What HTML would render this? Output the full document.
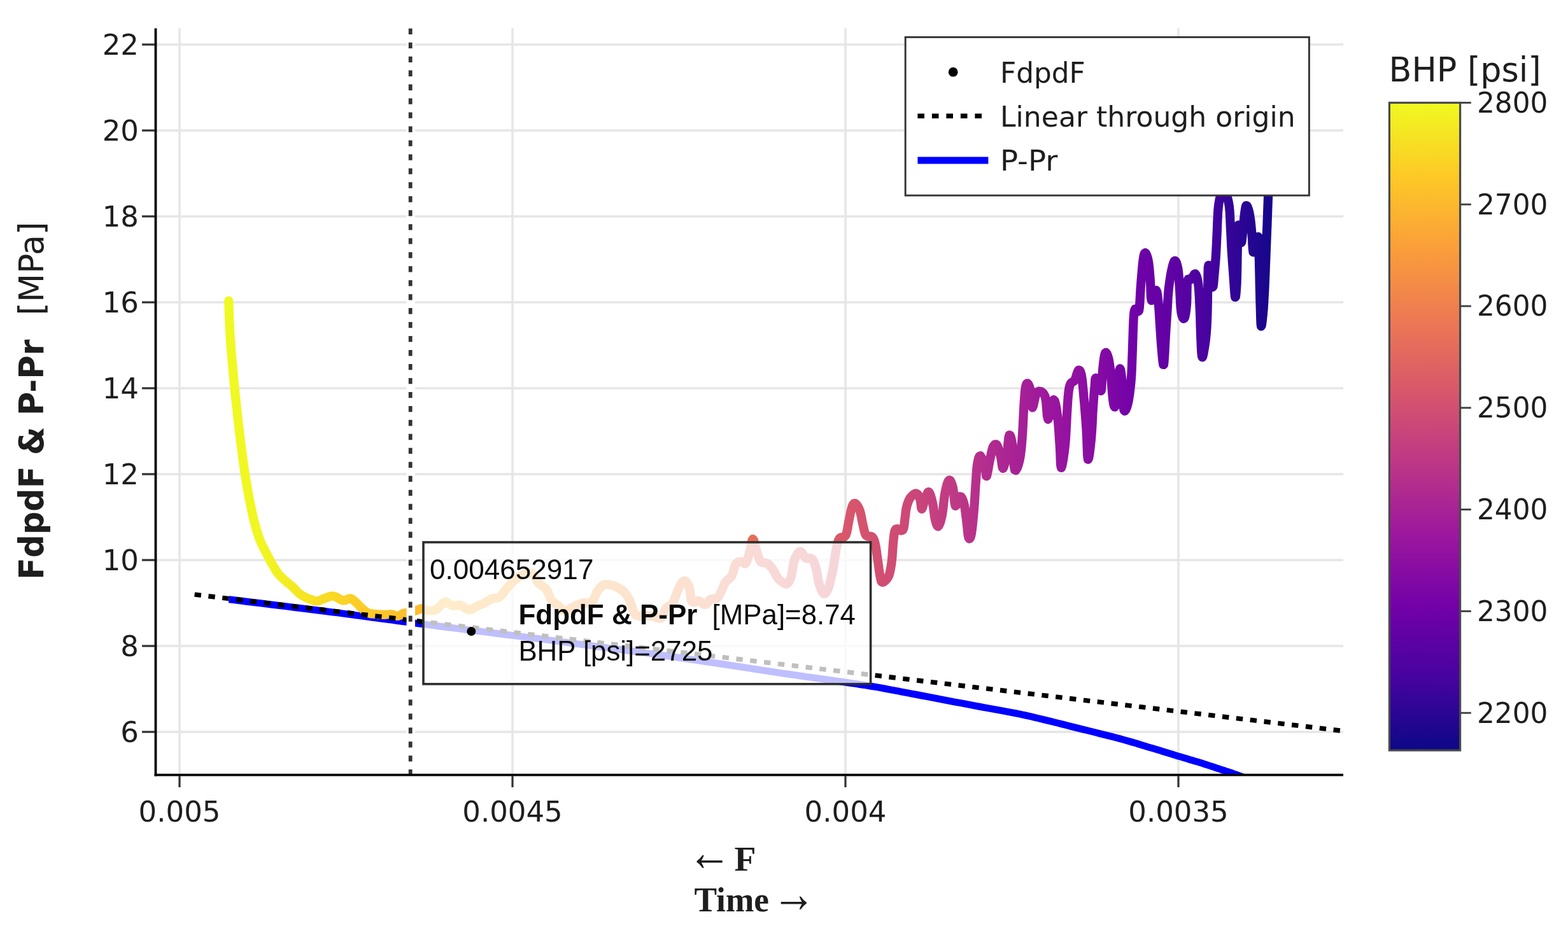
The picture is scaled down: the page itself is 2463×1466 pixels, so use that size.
<!DOCTYPE html>
<html lang="en"><head><meta charset="utf-8"><title>FdpdF &amp; P-Pr chart</title>
<style>html,body{margin:0;padding:0;background:#fff;overflow:hidden}svg{display:block;filter:blur(0.7px)}</style>
</head><body>
<svg width="2463" height="1466" viewBox="0 0 2463 1466">
<defs>
<linearGradient id="cb" x1="0" y1="1" x2="0" y2="0">
<stop offset="0.0000" stop-color="#0d0887"/>
<stop offset="0.1111" stop-color="#46039f"/>
<stop offset="0.2222" stop-color="#7201a8"/>
<stop offset="0.3333" stop-color="#9c179e"/>
<stop offset="0.4444" stop-color="#bd3786"/>
<stop offset="0.5556" stop-color="#d8576b"/>
<stop offset="0.6667" stop-color="#ed7953"/>
<stop offset="0.7778" stop-color="#fb9f3a"/>
<stop offset="0.8889" stop-color="#fdca26"/>
<stop offset="1.0000" stop-color="#f0f921"/>
</linearGradient>
<clipPath id="plot"><rect x="244.5" y="44.5" width="1865.5" height="1173.2"/></clipPath>
</defs>
<rect width="2463" height="1466" fill="#ffffff"/>
<g stroke="#e6e6e6" stroke-width="3.6" fill="none">
<line x1="282.0" y1="44.5" x2="282.0" y2="1217.7"/>
<line x1="805.0" y1="44.5" x2="805.0" y2="1217.7"/>
<line x1="1328.0" y1="44.5" x2="1328.0" y2="1217.7"/>
<line x1="1851.0" y1="44.5" x2="1851.0" y2="1217.7"/>
<line x1="244.5" y1="1150.0" x2="2110.0" y2="1150.0"/>
<line x1="244.5" y1="1015.0" x2="2110.0" y2="1015.0"/>
<line x1="244.5" y1="880.0" x2="2110.0" y2="880.0"/>
<line x1="244.5" y1="745.0" x2="2110.0" y2="745.0"/>
<line x1="244.5" y1="610.0" x2="2110.0" y2="610.0"/>
<line x1="244.5" y1="475.0" x2="2110.0" y2="475.0"/>
<line x1="244.5" y1="340.0" x2="2110.0" y2="340.0"/>
<line x1="244.5" y1="205.0" x2="2110.0" y2="205.0"/>
<line x1="244.5" y1="70.0" x2="2110.0" y2="70.0"/>
</g>
<defs><linearGradient id="fg" gradientUnits="userSpaceOnUse" x1="358" y1="0" x2="1995" y2="0">
<stop offset="0.0000" stop-color="#f0f921"/>
<stop offset="0.0318" stop-color="#f1f621"/>
<stop offset="0.0531" stop-color="#f3ee22"/>
<stop offset="0.0715" stop-color="#f5e623"/>
<stop offset="0.0990" stop-color="#f9d924"/>
<stop offset="0.1234" stop-color="#fccd26"/>
<stop offset="0.1723" stop-color="#fcbf2b"/>
<stop offset="0.2089" stop-color="#fcb331"/>
<stop offset="0.2700" stop-color="#fba836"/>
<stop offset="0.3311" stop-color="#fa9c3c"/>
<stop offset="0.3922" stop-color="#f69242"/>
<stop offset="0.4533" stop-color="#f1844c"/>
<stop offset="0.5034" stop-color="#e66e5b"/>
<stop offset="0.5510" stop-color="#df6264"/>
<stop offset="0.5999" stop-color="#d7556c"/>
<stop offset="0.6487" stop-color="#cd4a76"/>
<stop offset="0.6976" stop-color="#be3985"/>
<stop offset="0.7343" stop-color="#b02a90"/>
<stop offset="0.7892" stop-color="#9b169e"/>
<stop offset="0.8320" stop-color="#880ca3"/>
<stop offset="0.8687" stop-color="#7101a8"/>
<stop offset="0.9114" stop-color="#5d02a4"/>
<stop offset="0.9420" stop-color="#45039f"/>
<stop offset="0.9725" stop-color="#2c0594"/>
<stop offset="1.0000" stop-color="#17078b"/>
</linearGradient></defs>
<g clip-path="url(#plot)" fill="none" stroke-linejoin="round">
<path stroke="#0000ff" stroke-width="11" d="M359.5 941.7 L366.6 942.6 L376.0 943.8 L387.3 945.2 L399.8 946.7 L412.9 948.3 L426.0 950.0 L438.6 951.5 L450.0 952.9 L460.6 954.2 L471.0 955.5 L481.2 956.8 L491.3 958.0 L501.2 959.3 L510.9 960.5 L520.6 961.7 L530.0 962.9 L539.3 964.1 L548.3 965.3 L557.2 966.5 L565.9 967.6 L574.5 968.8 L583.0 970.0 L591.5 971.1 L600.0 972.2 L608.3 973.3 L616.4 974.4 L624.3 975.5 L632.1 976.5 L640.1 977.5 L648.3 978.6 L656.9 979.7 L666.0 980.9 L675.6 982.1 L685.5 983.4 L695.8 984.7 L706.3 986.0 L717.0 987.4 L727.9 988.8 L738.9 990.1 L750.0 991.5 L761.1 992.9 L772.3 994.3 L783.6 995.7 L795.1 997.2 L806.7 998.6 L818.6 1000.1 L830.6 1001.6 L843.0 1003.2 L855.8 1004.9 L869.0 1006.6 L882.6 1008.4 L896.3 1010.2 L910.1 1012.1 L923.7 1013.9 L937.1 1015.7 L950.0 1017.4 L962.7 1019.1 L975.3 1020.8 L987.8 1022.5 L1000.1 1024.1 L1012.1 1025.8 L1023.8 1027.4 L1035.1 1028.9 L1046.0 1030.4 L1056.4 1031.9 L1066.4 1033.3 L1075.9 1034.7 L1085.2 1036.1 L1094.2 1037.4 L1102.9 1038.7 L1111.5 1040.0 L1120.0 1041.3 L1128.2 1042.5 L1136.2 1043.7 L1143.8 1044.9 L1151.3 1046.0 L1158.7 1047.1 L1166.1 1048.3 L1173.5 1049.4 L1181.0 1050.6 L1188.6 1051.7 L1196.2 1052.9 L1203.9 1054.1 L1211.5 1055.2 L1219.1 1056.4 L1226.8 1057.6 L1234.4 1058.7 L1242.0 1059.8 L1249.6 1060.9 L1257.2 1062.0 L1264.7 1063.1 L1272.2 1064.1 L1279.8 1065.2 L1287.5 1066.3 L1295.2 1067.4 L1303.0 1068.5 L1311.0 1069.7 L1319.2 1070.8 L1327.4 1072.0 L1335.8 1073.2 L1344.0 1074.4 L1352.2 1075.7 L1360.2 1076.9 L1368.0 1078.2 L1375.5 1079.4 L1382.7 1080.7 L1389.8 1082.0 L1396.8 1083.3 L1403.7 1084.6 L1410.7 1085.9 L1417.7 1087.3 L1425.0 1088.7 L1432.4 1090.1 L1440.0 1091.5 L1447.6 1093.0 L1455.2 1094.4 L1462.9 1095.9 L1470.7 1097.4 L1478.3 1098.9 L1486.0 1100.3 L1493.7 1101.8 L1501.4 1103.3 L1509.2 1104.7 L1517.0 1106.2 L1524.7 1107.6 L1532.3 1109.1 L1539.8 1110.5 L1547.0 1111.8 L1554.1 1113.1 L1561.1 1114.4 L1568.0 1115.7 L1574.8 1116.9 L1581.4 1118.1 L1587.9 1119.4 L1594.1 1120.5 L1600.0 1121.7 L1605.6 1122.9 L1610.9 1124.0 L1615.9 1125.1 L1620.7 1126.2 L1625.4 1127.3 L1630.2 1128.5 L1635.0 1129.6 L1640.0 1130.8 L1645.2 1132.1 L1650.4 1133.3 L1655.7 1134.7 L1661.0 1136.0 L1666.3 1137.4 L1671.6 1138.7 L1676.8 1140.0 L1682.0 1141.3 L1687.1 1142.6 L1692.1 1143.8 L1697.1 1145.1 L1702.1 1146.3 L1707.0 1147.5 L1712.0 1148.8 L1717.0 1150.0 L1722.0 1151.3 L1727.1 1152.6 L1732.2 1153.8 L1737.3 1155.1 L1742.4 1156.4 L1747.6 1157.7 L1752.7 1159.0 L1757.9 1160.4 L1763.0 1161.8 L1768.1 1163.2 L1773.1 1164.6 L1778.2 1166.1 L1783.2 1167.6 L1788.3 1169.1 L1793.4 1170.7 L1798.6 1172.3 L1804.0 1173.9 L1809.6 1175.6 L1815.4 1177.3 L1821.4 1179.1 L1827.4 1181.0 L1833.3 1182.8 L1839.2 1184.6 L1844.7 1186.3 L1850.0 1187.9 L1854.9 1189.3 L1859.6 1190.7 L1864.2 1192.1 L1868.5 1193.4 L1872.7 1194.6 L1876.9 1195.9 L1880.9 1197.1 L1885.0 1198.3 L1889.0 1199.6 L1893.0 1200.9 L1896.8 1202.1 L1900.6 1203.4 L1904.3 1204.6 L1908.0 1205.8 L1911.5 1207.0 L1915.0 1208.1 L1918.3 1209.2 L1921.4 1210.2 L1924.3 1211.1 L1927.2 1212.1 L1930.1 1213.0 L1933.2 1214.0 L1936.4 1215.2 L1940.0 1216.4 L1944.1 1217.9 L1948.9 1219.6 L1953.9 1221.5 L1959.1 1223.4 L1964.0 1225.2 L1968.5 1226.9 L1972.2 1228.3 L1975.0 1229.3"/>
<path stroke="url(#fg)" stroke-width="14.2" stroke-linecap="round" d="M359.2 472.5 L359.4 477.1 L359.6 483.6 L359.8 491.0 L360.1 498.0 L360.4 504.4 L360.7 510.9 L361.0 517.4 L361.3 523.7 L361.7 529.9 L362.1 536.0 L362.5 542.0 L363.0 548.0 L363.4 553.6 L363.9 558.8 L364.4 564.5 L365.0 571.6 L365.8 580.4 L366.7 590.5 L367.7 601.2 L368.7 612.0 L369.8 623.0 L371.1 634.4 L372.3 645.7 L373.5 656.3 L374.6 666.0 L375.7 675.1 L376.8 684.0 L377.9 693.0 L379.1 702.3 L380.3 711.7 L381.5 721.0 L382.7 730.0 L383.9 738.6 L385.2 747.0 L386.5 755.1 L387.8 763.0 L389.1 770.6 L390.5 778.0 L391.9 785.3 L393.4 792.6 L394.9 800.0 L396.5 807.5 L398.2 814.9 L400.0 822.0 L401.9 828.8 L403.8 835.5 L405.8 841.8 L408.0 847.8 L410.3 853.3 L412.8 858.5 L415.3 863.3 L417.7 868.0 L419.9 872.4 L422.1 876.6 L424.2 880.6 L426.5 884.7 L429.0 889.0 L431.5 893.3 L434.1 897.5 L436.8 901.2 L439.5 904.4 L442.3 907.2 L445.1 909.7 L447.9 912.3 L450.8 914.9 L453.8 917.3 L456.8 919.7 L459.7 922.2 L462.4 924.8 L464.9 927.5 L467.4 930.2 L470.0 932.5 L472.7 934.5 L475.6 936.3 L478.4 937.8 L481.0 939.2 L483.4 940.3 L485.7 941.1 L487.8 941.8 L490.0 942.5 L492.1 943.3 L494.0 944.1 L496.0 944.7 L498.4 944.7 L501.2 943.9 L504.2 942.6 L507.4 941.1 L510.7 939.8 L514.0 938.7 L517.3 937.5 L520.7 936.7 L524.2 936.7 L527.9 937.9 L531.7 940.1 L535.5 942.3 L538.9 943.5 L542.0 943.2 L544.8 942.0 L547.5 940.8 L550.0 940.4 L552.3 941.1 L554.4 942.4 L556.4 944.1 L558.6 946.0 L561.0 948.2 L563.4 950.8 L565.9 953.4 L568.4 955.8 L570.8 957.9 L573.1 959.9 L575.6 961.7 L578.2 963.1 L581.1 964.0 L584.2 964.5 L587.4 964.7 L590.5 965.0 L593.6 965.3 L596.7 965.5 L599.7 965.7 L602.8 965.8 L605.9 965.7 L609.0 965.5 L612.1 965.3 L615.0 965.4 L617.7 966.0 L620.2 966.9 L622.6 967.8 L624.9 968.0 L627.2 967.3 L629.5 966.1 L631.6 964.8 L633.5 963.8 L634.9 963.4 L636.0 963.3 L637.1 963.3 L638.4 963.1 L640.1 962.7 L642.1 962.1 L644.1 961.5 L646.0 961.0 L647.8 960.6 L649.5 960.3 L651.2 960.0 L653.1 959.5 L655.2 958.7 L657.4 957.7 L659.6 956.8 L661.7 956.4 L663.6 956.6 L665.4 957.2 L667.2 957.9 L669.0 958.5 L670.8 958.9 L672.6 959.3 L674.5 959.5 L676.5 959.5 L678.7 959.3 L681.1 959.0 L683.6 958.3 L686.3 957.0 L689.3 954.5 L692.6 951.1 L695.8 947.9 L698.6 946.0 L700.8 945.9 L702.6 946.9 L704.3 948.4 L706.0 949.5 L707.8 950.3 L709.5 951.0 L711.3 951.7 L713.3 952.0 L715.5 951.8 L717.8 951.1 L720.3 950.7 L723.1 950.9 L726.2 952.5 L729.7 954.9 L733.2 957.1 L736.7 958.2 L740.2 957.5 L743.7 955.8 L747.1 953.7 L750.2 952.0 L752.9 950.9 L755.2 950.1 L757.5 949.3 L760.0 948.1 L762.9 946.4 L766.0 944.3 L769.2 942.3 L772.3 940.7 L775.4 940.0 L778.5 939.9 L781.5 939.6 L784.6 938.2 L787.6 935.4 L790.5 931.6 L793.6 927.5 L796.8 923.5 L800.4 919.6 L804.2 915.6 L808.0 911.9 L811.6 908.8 L814.9 906.5 L817.9 904.9 L820.9 903.6 L823.9 902.6 L827.0 901.6 L830.1 900.7 L833.2 900.5 L836.1 901.4 L838.7 904.1 L841.1 908.1 L843.4 912.4 L846.0 916.1 L849.0 918.8 L852.3 921.0 L855.4 923.2 L858.2 926.0 L860.3 929.7 L862.0 934.0 L863.6 938.2 L865.6 941.9 L868.1 944.8 L870.9 947.3 L873.8 949.5 L876.7 951.7 L879.5 954.3 L882.2 957.0 L884.9 959.2 L887.7 960.3 L890.4 959.8 L893.0 958.2 L895.8 956.1 L898.8 954.2 L902.2 952.6 L905.8 950.9 L909.6 949.4 L913.5 948.1 L917.6 947.5 L921.9 947.5 L926.0 947.1 L929.5 945.6 L932.2 942.4 L934.3 938.1 L936.1 933.5 L938.1 929.6 L940.2 926.5 L942.3 923.8 L944.5 921.5 L946.7 919.8 L949.0 918.8 L951.4 918.4 L953.8 918.4 L956.5 918.6 L959.4 919.1 L962.5 919.8 L965.7 920.9 L968.8 922.3 L971.9 924.0 L975.1 926.0 L978.2 928.3 L981.0 930.9 L983.5 933.8 L985.7 937.0 L987.7 940.6 L989.6 944.4 L991.3 949.0 L992.8 954.1 L994.3 959.0 L995.8 962.8 L997.2 965.1 L998.5 966.4 L1000.1 967.2 L1002.1 967.7 L1004.9 967.9 L1008.2 967.5 L1011.7 967.1 L1015.0 967.0 L1018.1 967.3 L1021.1 967.8 L1024.0 968.4 L1027.0 969.0 L1030.1 969.9 L1033.2 971.1 L1036.2 971.8 L1038.9 971.0 L1041.0 968.1 L1042.7 963.6 L1044.4 958.8 L1046.3 955.1 L1048.6 953.2 L1051.2 952.2 L1053.8 951.1 L1056.1 948.9 L1058.1 945.1 L1059.9 940.2 L1061.7 935.1 L1063.5 930.5 L1065.4 926.3 L1067.3 922.2 L1069.1 918.5 L1070.9 915.8 L1072.5 914.0 L1074.0 912.9 L1075.5 912.7 L1077.0 913.3 L1078.6 914.9 L1080.3 917.5 L1081.9 920.8 L1083.2 924.4 L1084.0 928.8 L1084.5 934.1 L1084.9 939.1 L1085.6 942.8 L1086.6 944.9 L1087.7 946.0 L1089.0 946.4 L1090.5 946.5 L1092.1 946.1 L1093.9 945.1 L1095.8 944.2 L1097.9 944.0 L1100.2 945.3 L1102.7 947.5 L1105.3 949.5 L1107.7 950.2 L1109.9 948.9 L1112.0 946.4 L1114.1 943.6 L1116.3 941.6 L1118.7 941.0 L1121.3 941.2 L1123.8 941.2 L1126.1 940.3 L1128.1 938.0 L1130.0 935.0 L1131.8 931.5 L1133.5 928.1 L1135.0 924.7 L1136.4 921.2 L1137.8 917.8 L1139.6 914.6 L1141.9 912.1 L1144.5 910.0 L1147.2 907.7 L1149.5 904.7 L1151.2 900.4 L1152.6 895.1 L1154.0 890.1 L1155.6 886.3 L1157.6 884.2 L1159.8 883.1 L1162.1 882.7 L1164.2 882.6 L1166.2 883.3 L1168.1 884.8 L1169.9 885.8 L1171.6 885.1 L1173.2 882.0 L1174.8 877.3 L1176.3 871.9 L1177.7 866.7 L1179.0 860.9 L1180.1 854.5 L1181.3 849.2 L1182.6 847.0 L1184.1 849.2 L1185.6 854.6 L1187.2 861.1 L1188.8 866.7 L1190.2 871.3 L1191.6 875.7 L1193.1 879.7 L1194.9 882.6 L1197.1 884.0 L1199.6 884.3 L1202.2 884.4 L1204.7 885.1 L1206.9 886.7 L1209.1 888.6 L1211.2 891.0 L1213.3 893.7 L1215.5 897.1 L1217.6 901.1 L1219.8 905.1 L1221.9 908.4 L1224.1 910.9 L1226.4 912.9 L1228.5 914.6 L1230.5 915.8 L1232.2 916.8 L1233.8 917.5 L1235.2 917.7 L1236.7 917.0 L1238.3 915.4 L1239.9 913.1 L1241.4 910.0 L1242.8 906.0 L1244.0 900.5 L1245.1 893.8 L1246.2 887.0 L1247.4 881.4 L1248.9 877.1 L1250.6 873.5 L1252.3 870.6 L1253.8 868.5 L1255.1 867.2 L1256.2 866.6 L1257.4 866.7 L1258.8 867.5 L1260.4 869.3 L1262.1 872.1 L1264.0 875.0 L1266.0 877.0 L1268.3 877.5 L1270.9 877.2 L1273.4 877.1 L1275.6 878.1 L1277.4 880.6 L1279.0 884.0 L1280.4 888.1 L1281.8 892.8 L1283.1 898.5 L1284.2 905.0 L1285.3 911.7 L1286.7 917.4 L1288.4 922.5 L1290.2 927.3 L1292.1 931.1 L1294.0 933.0 L1295.8 932.9 L1297.7 931.1 L1299.5 928.0 L1301.4 923.5 L1303.3 917.3 L1305.3 909.5 L1307.1 901.0 L1308.8 892.8 L1310.2 884.8 L1311.4 876.5 L1312.5 868.7 L1313.7 862.1 L1314.8 856.8 L1315.8 852.5 L1317.0 849.0 L1318.6 846.1 L1320.8 844.5 L1323.5 844.0 L1326.2 843.4 L1328.4 841.2 L1330.0 836.9 L1331.2 831.2 L1332.2 825.0 L1333.3 819.1 L1334.5 813.2 L1335.7 807.0 L1337.0 801.4 L1338.2 797.0 L1339.4 793.9 L1340.6 791.9 L1341.8 790.8 L1343.2 790.9 L1344.9 792.2 L1346.9 794.6 L1348.8 798.0 L1350.5 801.9 L1351.9 806.8 L1353.1 812.6 L1354.2 818.6 L1355.4 824.0 L1356.5 829.0 L1357.5 833.8 L1358.7 838.0 L1360.3 841.2 L1362.5 842.6 L1365.2 842.8 L1368.0 842.7 L1370.2 843.7 L1371.8 845.8 L1373.0 848.5 L1374.1 851.8 L1375.1 856.0 L1376.1 861.3 L1377.0 867.5 L1377.9 874.1 L1378.8 880.5 L1379.7 887.0 L1380.6 893.7 L1381.5 900.0 L1382.4 905.1 L1383.2 909.0 L1383.9 912.2 L1384.7 914.2 L1386.1 914.9 L1388.3 914.2 L1391.0 912.1 L1393.7 909.0 L1396.0 905.1 L1397.6 900.1 L1398.9 894.1 L1400.0 887.4 L1400.9 880.5 L1401.6 873.0 L1402.2 864.8 L1402.7 856.8 L1403.3 849.8 L1404.0 843.9 L1404.6 838.6 L1405.5 834.3 L1407.0 831.4 L1409.4 830.9 L1412.6 832.3 L1415.7 833.6 L1418.1 833.0 L1419.6 829.4 L1420.4 824.1 L1421.1 818.2 L1421.7 813.0 L1422.3 808.7 L1422.7 804.6 L1423.2 800.8 L1424.0 797.0 L1425.0 793.1 L1426.3 789.3 L1427.7 785.7 L1429.5 782.6 L1431.7 779.9 L1434.4 777.4 L1437.0 775.8 L1439.3 775.3 L1441.2 776.4 L1442.8 778.8 L1444.2 781.9 L1445.4 785.1 L1446.2 789.1 L1446.7 794.0 L1447.2 798.1 L1447.9 799.8 L1448.9 798.1 L1450.1 794.1 L1451.4 789.3 L1452.8 785.1 L1454.2 781.1 L1455.8 776.9 L1457.3 773.7 L1458.9 772.8 L1460.5 775.1 L1462.2 779.7 L1463.7 785.4 L1465.1 791.2 L1466.2 797.2 L1467.0 804.0 L1467.8 810.4 L1468.8 815.8 L1469.9 820.2 L1471.1 824.0 L1472.4 826.5 L1473.7 827.0 L1475.2 825.1 L1476.8 821.3 L1478.3 816.0 L1479.8 809.6 L1481.1 801.3 L1482.2 791.3 L1483.4 781.2 L1484.7 772.8 L1486.2 766.2 L1487.7 760.5 L1489.3 756.4 L1490.9 754.4 L1492.5 754.9 L1494.1 757.6 L1495.6 761.8 L1497.0 766.7 L1498.0 773.7 L1498.8 782.5 L1499.6 790.6 L1500.7 795.0 L1502.3 793.7 L1504.2 788.7 L1506.3 783.1 L1508.1 780.2 L1509.8 780.8 L1511.4 783.2 L1512.9 786.9 L1514.2 791.2 L1515.3 796.3 L1516.2 802.4 L1517.0 809.0 L1517.9 815.8 L1518.8 823.6 L1519.7 832.4 L1520.5 840.1 L1521.5 845.0 L1522.6 846.6 L1523.7 845.9 L1524.9 843.0 L1526.0 838.0 L1527.1 830.1 L1528.2 819.6 L1529.3 808.1 L1530.2 797.4 L1530.9 787.8 L1531.5 778.3 L1532.0 769.2 L1532.6 760.5 L1533.2 752.0 L1533.7 743.7 L1534.3 736.1 L1535.1 729.8 L1536.1 724.4 L1537.2 719.9 L1538.5 716.9 L1540.0 716.3 L1541.8 719.1 L1543.9 724.5 L1545.8 730.8 L1547.4 736.0 L1548.3 740.4 L1548.8 744.9 L1549.1 747.9 L1549.8 748.2 L1550.8 744.6 L1552.1 738.0 L1553.4 730.4 L1554.7 723.7 L1555.9 717.8 L1557.1 712.0 L1558.3 706.7 L1559.6 702.8 L1561.1 700.1 L1562.6 698.5 L1564.2 698.1 L1565.8 699.1 L1567.4 702.1 L1569.0 706.9 L1570.5 712.4 L1571.9 717.5 L1572.9 723.1 L1573.8 729.4 L1574.6 734.4 L1575.6 736.0 L1577.0 733.0 L1578.7 726.6 L1580.3 718.8 L1581.7 711.4 L1582.8 703.7 L1583.6 695.0 L1584.4 687.6 L1585.4 683.6 L1586.6 683.9 L1587.9 687.2 L1589.1 692.5 L1590.3 699.1 L1591.2 708.5 L1592.0 720.6 L1592.8 731.8 L1594.0 738.4 L1595.7 739.0 L1597.7 735.6 L1599.7 730.0 L1601.4 723.7 L1602.7 717.0 L1603.7 709.0 L1604.7 700.0 L1605.5 690.0 L1606.3 678.3 L1607.0 665.1 L1607.6 651.9 L1608.2 640.5 L1608.8 631.0 L1609.4 622.5 L1610.0 615.4 L1610.7 609.8 L1611.5 605.8 L1612.4 603.4 L1613.4 602.3 L1614.4 602.5 L1615.6 604.2 L1616.9 607.3 L1618.2 611.4 L1619.3 616.0 L1620.0 622.5 L1620.4 630.6 L1620.9 637.6 L1621.8 640.5 L1623.2 637.1 L1624.8 629.4 L1626.8 621.1 L1629.1 616.0 L1632.0 614.7 L1635.4 615.2 L1638.7 617.7 L1641.4 622.1 L1643.1 630.7 L1644.1 642.8 L1645.0 653.7 L1646.3 658.9 L1648.2 654.7 L1650.5 644.3 L1652.8 633.6 L1654.9 628.2 L1656.7 629.9 L1658.3 635.6 L1659.7 643.8 L1661.0 652.8 L1662.1 663.3 L1663.1 675.8 L1663.9 688.5 L1664.7 700.0 L1665.3 711.2 L1665.7 722.6 L1666.2 731.5 L1667.0 735.0 L1668.3 731.5 L1670.0 722.8 L1671.6 711.4 L1673.0 700.0 L1674.0 688.2 L1674.7 674.9 L1675.4 661.7 L1676.0 650.0 L1676.6 639.9 L1677.2 630.7 L1677.8 622.7 L1678.5 616.0 L1679.2 611.0 L1680.0 607.4 L1680.8 604.8 L1681.9 602.5 L1683.3 600.9 L1684.8 600.1 L1686.5 599.3 L1688.1 597.5 L1689.7 593.7 L1691.2 588.6 L1692.8 584.0 L1694.2 581.6 L1695.5 581.6 L1696.8 583.2 L1698.0 586.4 L1699.1 591.4 L1700.1 598.5 L1701.0 607.5 L1701.9 617.7 L1702.8 628.2 L1703.8 639.2 L1704.7 651.0 L1705.7 663.1 L1706.5 675.0 L1707.2 688.6 L1707.7 703.4 L1708.2 715.8 L1709.0 722.0 L1710.1 720.0 L1711.5 712.1 L1712.8 701.1 L1714.0 690.0 L1714.9 678.3 L1715.7 665.0 L1716.3 651.7 L1717.0 640.0 L1717.7 630.3 L1718.3 621.8 L1718.9 614.3 L1719.5 608.0 L1719.9 602.7 L1720.1 598.3 L1720.5 595.3 L1721.2 593.9 L1722.5 594.7 L1724.3 597.3 L1726.0 600.7 L1727.4 603.7 L1728.3 607.2 L1728.8 611.4 L1729.3 614.2 L1729.8 613.5 L1730.4 607.8 L1731.0 598.4 L1731.6 588.0 L1732.3 579.1 L1733.1 571.5 L1734.0 564.2 L1735.0 558.3 L1736.0 554.6 L1737.2 553.8 L1738.5 555.3 L1739.7 558.2 L1740.9 561.9 L1741.9 566.2 L1742.8 571.4 L1743.7 577.7 L1744.6 585.3 L1745.5 595.4 L1746.4 607.6 L1747.3 619.3 L1748.2 628.2 L1749.1 634.0 L1750.0 638.0 L1751.0 639.5 L1751.9 638.1 L1752.8 632.4 L1753.8 623.1 L1754.7 612.6 L1755.6 603.7 L1756.5 595.7 L1757.4 587.7 L1758.4 581.6 L1759.3 579.1 L1760.3 581.4 L1761.2 587.3 L1762.2 595.3 L1763.0 603.7 L1763.6 613.9 L1764.0 626.1 L1764.6 637.2 L1765.4 644.2 L1766.7 645.9 L1768.3 644.0 L1770.1 639.8 L1771.6 634.4 L1773.0 627.7 L1774.3 619.1 L1775.5 609.6 L1776.5 600.0 L1777.2 590.8 L1777.7 581.4 L1778.1 571.3 L1778.5 560.0 L1779.0 546.0 L1779.5 530.0 L1780.0 514.7 L1780.5 502.8 L1781.0 495.2 L1781.5 490.5 L1782.1 487.6 L1783.0 485.6 L1784.4 485.7 L1786.0 487.9 L1787.7 489.6 L1789.1 488.1 L1789.9 482.3 L1790.5 473.7 L1791.0 463.8 L1791.6 453.7 L1792.4 442.9 L1793.4 430.9 L1794.4 419.6 L1795.3 410.7 L1796.2 404.6 L1797.0 400.4 L1797.9 398.0 L1798.9 397.2 L1800.1 398.3 L1801.4 401.2 L1802.8 405.5 L1803.9 410.7 L1804.8 417.2 L1805.6 425.0 L1806.3 433.3 L1806.9 441.4 L1807.3 450.2 L1807.6 459.7 L1808.0 467.7 L1808.8 472.1 L1810.3 470.5 L1812.3 464.6 L1814.4 458.5 L1816.1 456.1 L1817.3 458.6 L1818.2 463.8 L1819.0 470.7 L1819.8 478.2 L1820.5 486.4 L1821.1 495.7 L1821.7 505.5 L1822.3 515.1 L1823.0 524.7 L1823.6 534.5 L1824.3 543.8 L1825.0 551.9 L1825.7 559.8 L1826.5 567.6 L1827.3 572.8 L1828.0 573.0 L1828.7 566.1 L1829.5 553.8 L1830.2 539.8 L1830.9 527.4 L1831.5 517.6 L1832.1 508.4 L1832.7 499.5 L1833.3 490.5 L1833.9 481.2 L1834.4 471.7 L1835.0 462.5 L1835.8 453.7 L1836.9 445.2 L1838.1 436.9 L1839.4 429.3 L1840.7 423.0 L1841.9 417.8 L1843.2 413.5 L1844.4 410.6 L1845.6 409.5 L1846.9 410.6 L1848.2 413.5 L1849.4 417.8 L1850.5 423.0 L1851.3 429.3 L1851.9 436.9 L1852.4 445.2 L1853.0 453.7 L1853.5 463.1 L1854.0 473.4 L1854.6 483.1 L1855.4 490.5 L1856.5 495.6 L1857.8 499.1 L1859.1 500.7 L1860.3 500.3 L1861.4 497.4 L1862.4 492.2 L1863.3 485.5 L1864.0 478.2 L1864.4 469.2 L1864.5 458.6 L1864.7 448.5 L1865.3 441.4 L1866.5 438.5 L1868.1 438.4 L1869.8 439.1 L1871.4 438.9 L1873.0 436.6 L1874.5 433.4 L1876.1 430.8 L1877.5 430.3 L1878.9 432.2 L1880.2 435.7 L1881.4 440.8 L1882.4 447.5 L1883.2 456.6 L1883.9 467.8 L1884.4 479.6 L1884.9 490.5 L1885.3 500.3 L1885.5 509.6 L1885.8 518.6 L1886.1 527.4 L1886.5 536.8 L1886.9 546.5 L1887.4 554.8 L1888.0 560.0 L1888.7 561.3 L1889.4 559.7 L1890.2 556.3 L1891.0 552.0 L1891.9 546.8 L1892.9 540.2 L1893.9 532.7 L1894.7 525.0 L1895.3 517.0 L1895.8 508.4 L1896.2 499.5 L1896.5 490.5 L1896.7 481.5 L1896.9 472.2 L1897.0 463.0 L1897.2 453.7 L1897.3 442.8 L1897.5 430.8 L1897.7 421.0 L1898.4 416.8 L1899.7 421.7 L1901.4 433.0 L1903.2 444.8 L1904.6 451.2 L1905.6 450.0 L1906.3 444.6 L1906.9 437.2 L1907.5 430.0 L1908.2 423.1 L1908.8 415.6 L1909.5 407.7 L1910.0 400.0 L1910.4 392.6 L1910.8 385.3 L1911.1 377.9 L1911.5 370.0 L1911.9 361.3 L1912.2 351.9 L1912.6 342.9 L1913.0 335.0 L1913.5 328.5 L1914.1 322.9 L1914.8 318.1 L1915.5 314.0 L1916.3 310.7 L1917.2 308.3 L1918.1 306.4 L1919.0 305.0 L1920.0 304.0 L1921.0 303.4 L1922.0 303.3 L1923.0 303.5 L1924.0 304.1 L1925.1 305.0 L1926.1 306.3 L1927.0 308.0 L1927.8 310.0 L1928.5 312.4 L1929.2 315.1 L1929.8 318.0 L1930.3 320.9 L1930.8 323.9 L1931.2 327.4 L1931.6 332.0 L1932.0 337.9 L1932.3 344.8 L1932.6 352.2 L1933.0 360.0 L1933.4 368.0 L1933.8 376.5 L1934.2 385.2 L1934.7 394.0 L1935.3 402.8 L1935.9 411.8 L1936.6 420.9 L1937.3 430.0 L1938.0 440.6 L1938.8 452.1 L1939.5 461.9 L1940.2 467.0 L1940.9 466.2 L1941.5 461.1 L1942.1 453.5 L1942.6 445.0 L1942.9 435.3 L1943.2 423.9 L1943.4 411.7 L1943.6 400.0 L1943.9 387.8 L1944.2 374.9 L1944.6 363.5 L1945.0 356.0 L1945.5 353.5 L1946.2 354.5 L1946.8 357.5 L1947.5 361.0 L1948.1 365.9 L1948.8 372.6 L1949.4 378.5 L1950.0 381.0 L1950.6 378.7 L1951.2 373.2 L1951.9 366.4 L1952.5 360.0 L1953.1 354.0 L1953.8 347.5 L1954.4 341.3 L1955.0 336.0 L1955.6 331.5 L1956.2 327.6 L1956.8 324.7 L1957.5 323.0 L1958.3 323.0 L1959.2 324.2 L1960.1 326.4 L1961.0 329.0 L1961.8 331.9 L1962.6 335.4 L1963.3 339.4 L1964.0 344.0 L1964.7 349.3 L1965.3 355.2 L1965.9 361.5 L1966.5 368.0 L1967.0 375.6 L1967.4 384.1 L1967.9 391.6 L1968.5 396.0 L1969.3 396.3 L1970.1 393.6 L1971.0 389.7 L1972.0 386.0 L1973.1 381.8 L1974.3 376.6 L1975.4 372.6 L1976.3 372.0 L1976.8 375.8 L1977.2 382.6 L1977.4 391.2 L1977.6 400.0 L1977.9 409.2 L1978.1 419.2 L1978.4 429.7 L1978.6 440.0 L1978.8 450.2 L1979.1 460.5 L1979.3 470.5 L1979.6 480.0 L1979.9 489.9 L1980.2 500.1 L1980.5 508.4 L1981.0 512.6 L1981.6 511.6 L1982.4 506.8 L1983.2 499.8 L1984.0 492.0 L1984.7 483.6 L1985.3 473.8 L1985.9 463.2 L1986.5 452.0 L1987.0 440.2 L1987.5 427.6 L1988.0 414.7 L1988.5 402.0 L1989.0 389.3 L1989.5 376.5 L1990.0 363.9 L1990.5 352.0 L1990.9 340.3 L1991.3 328.8 L1991.7 318.3 L1992.0 310.0 L1992.3 304.2 L1992.5 300.4 L1992.7 297.9 L1992.8 296.0"/>
<line x1="305.6" y1="934.2" x2="2112" y2="1148.8" stroke="#000" stroke-width="7.4" stroke-dasharray="10.4 11.57"/>
</g>
<line x1="645.3" y1="44.5" x2="645.3" y2="1217.5" stroke="#fff" stroke-width="13.4"/>
<line x1="644.7" y1="44.7" x2="644.7" y2="1217.5" stroke="#333" stroke-width="5.8" stroke-dasharray="9.3 12.67"/>
<g stroke="#000" stroke-width="3.8" fill="none"><line x1="244.5" y1="44.5" x2="244.5" y2="1219.6000000000001"/><line x1="242.6" y1="1217.7" x2="2110.0" y2="1217.7"/></g>
<g stroke="#303030" stroke-width="3.2" fill="none">
<line x1="223" y1="1150.0" x2="243.0" y2="1150.0"/>
<line x1="223" y1="1015.0" x2="243.0" y2="1015.0"/>
<line x1="223" y1="880.0" x2="243.0" y2="880.0"/>
<line x1="223" y1="745.0" x2="243.0" y2="745.0"/>
<line x1="223" y1="610.0" x2="243.0" y2="610.0"/>
<line x1="223" y1="475.0" x2="243.0" y2="475.0"/>
<line x1="223" y1="340.0" x2="243.0" y2="340.0"/>
<line x1="223" y1="205.0" x2="243.0" y2="205.0"/>
<line x1="223" y1="70.0" x2="243.0" y2="70.0"/>
<line x1="282.0" y1="1219.2" x2="282.0" y2="1237"/>
<line x1="805.0" y1="1219.2" x2="805.0" y2="1237"/>
<line x1="1328.0" y1="1219.2" x2="1328.0" y2="1237"/>
<line x1="1851.0" y1="1219.2" x2="1851.0" y2="1237"/>
</g>
<g font-family="'DejaVu Sans', 'Liberation Sans', sans-serif" font-size="45" fill="#1e1e1e">
<text x="218" y="1166.1" text-anchor="end">6</text>
<text x="218" y="1031.1" text-anchor="end">8</text>
<text x="218" y="896.1" text-anchor="end">10</text>
<text x="218" y="761.1" text-anchor="end">12</text>
<text x="218" y="626.1" text-anchor="end">14</text>
<text x="218" y="491.1" text-anchor="end">16</text>
<text x="218" y="356.1" text-anchor="end">18</text>
<text x="218" y="221.1" text-anchor="end">20</text>
<text x="218" y="86.1" text-anchor="end">22</text>
<text x="282.0" y="1291" text-anchor="middle">0.005</text>
<text x="805.0" y="1291" text-anchor="middle">0.0045</text>
<text x="1328.0" y="1291" text-anchor="middle">0.004</text>
<text x="1851.0" y="1291" text-anchor="middle">0.0035</text>
</g>
<g transform="translate(67.8,0) rotate(-90)" font-family="'DejaVu Sans', 'Liberation Sans', sans-serif" font-size="53" fill="#1e1e1e"><text x="-911" y="0" font-weight="bold" textLength="377.6" lengthAdjust="spacingAndGlyphs">FdpdF &amp; P-Pr</text><text x="-495.5" y="0" textLength="147" lengthAdjust="spacingAndGlyphs">[MPa]</text></g>
<g font-family="'Liberation Serif', serif" fill="#1e1e1e"><text transform="translate(1080.8,1368.2) scale(1,1.25)" font-size="68">←</text><text x="1153.5" y="1368.2" font-size="55" font-weight="bold" textLength="34" lengthAdjust="spacingAndGlyphs">F</text><text x="1090.5" y="1431.6" font-size="55" font-weight="bold" textLength="117.5" lengthAdjust="spacingAndGlyphs">Time</text><text transform="translate(1213,1432.8) scale(1,1.25)" font-size="68">→</text></g>
<g>
<rect x="1422.2" y="58.4" width="634.2" height="248.7" fill="#fff" stroke="#333" stroke-width="2.9"/>
<circle cx="1497.2" cy="113.2" r="7.4" fill="#000"/>
<line x1="1441.4" y1="182.2" x2="1552" y2="182.2" stroke="#000" stroke-width="7.6" stroke-dasharray="10.6 11.9"/>
<line x1="1441.4" y1="252" x2="1552.4" y2="252" stroke="#0000ff" stroke-width="11"/>
<g font-family="'DejaVu Sans', 'Liberation Sans', sans-serif" font-size="45" fill="#1e1e1e"><text x="1571" y="129.5" textLength="133.8" lengthAdjust="spacingAndGlyphs">FdpdF</text><text x="1571" y="199.4" textLength="463.8" lengthAdjust="spacingAndGlyphs">Linear through origin</text><text x="1571" y="267.8" textLength="90.4" lengthAdjust="spacingAndGlyphs">P-Pr</text></g>
</g>
<g>
<rect x="2182.4" y="161.4" width="111.2" height="1017.6" fill="url(#cb)" stroke="#4a4a4a" stroke-width="3.2"/>
<g stroke="#404040" stroke-width="2.9">
<line x1="2294" y1="161.4" x2="2310.8" y2="161.4"/>
<line x1="2294" y1="321.2" x2="2310.8" y2="321.2"/>
<line x1="2294" y1="481.0" x2="2310.8" y2="481.0"/>
<line x1="2294" y1="640.8" x2="2310.8" y2="640.8"/>
<line x1="2294" y1="800.6" x2="2310.8" y2="800.6"/>
<line x1="2294" y1="960.4" x2="2310.8" y2="960.4"/>
<line x1="2294" y1="1120.2" x2="2310.8" y2="1120.2"/>
</g>
<g font-family="'DejaVu Sans', 'Liberation Sans', sans-serif" font-size="45" fill="#1e1e1e">
<text x="2320" y="176.8" textLength="111.5" lengthAdjust="spacingAndGlyphs">2800</text>
<text x="2320" y="336.6" textLength="111.5" lengthAdjust="spacingAndGlyphs">2700</text>
<text x="2320" y="496.4" textLength="111.5" lengthAdjust="spacingAndGlyphs">2600</text>
<text x="2320" y="656.2" textLength="111.5" lengthAdjust="spacingAndGlyphs">2500</text>
<text x="2320" y="816.0" textLength="111.5" lengthAdjust="spacingAndGlyphs">2400</text>
<text x="2320" y="975.8" textLength="111.5" lengthAdjust="spacingAndGlyphs">2300</text>
<text x="2320" y="1135.6" textLength="111.5" lengthAdjust="spacingAndGlyphs">2200</text>
</g>
<text x="2181.5" y="128.3" font-family="'DejaVu Sans', 'Liberation Sans', sans-serif" font-size="53.5" fill="#1e1e1e" textLength="239.3" lengthAdjust="spacingAndGlyphs">BHP [psi]</text>
</g>
<g>
<rect x="665" y="852" width="702.6" height="222.8" fill="#ffffff" fill-opacity="0.75" stroke="#2e2e2e" stroke-width="3.6"/>
<circle cx="740.3" cy="992" r="7" fill="#000"/>
<g font-family="'Liberation Sans', sans-serif" font-size="43.6" fill="#0a0a0a"><text x="675" y="909.5" textLength="257.4" lengthAdjust="spacingAndGlyphs">0.004652917</text><text x="814.4" y="981" font-weight="bold" textLength="281" lengthAdjust="spacingAndGlyphs">FdpdF &amp; P-Pr</text><text x="1118.6" y="981" textLength="225.4" lengthAdjust="spacingAndGlyphs">[MPa]=8.74</text><text x="814.4" y="1037.5" textLength="305" lengthAdjust="spacingAndGlyphs">BHP [psi]=2725</text></g>
</g>
</svg>
</body></html>
